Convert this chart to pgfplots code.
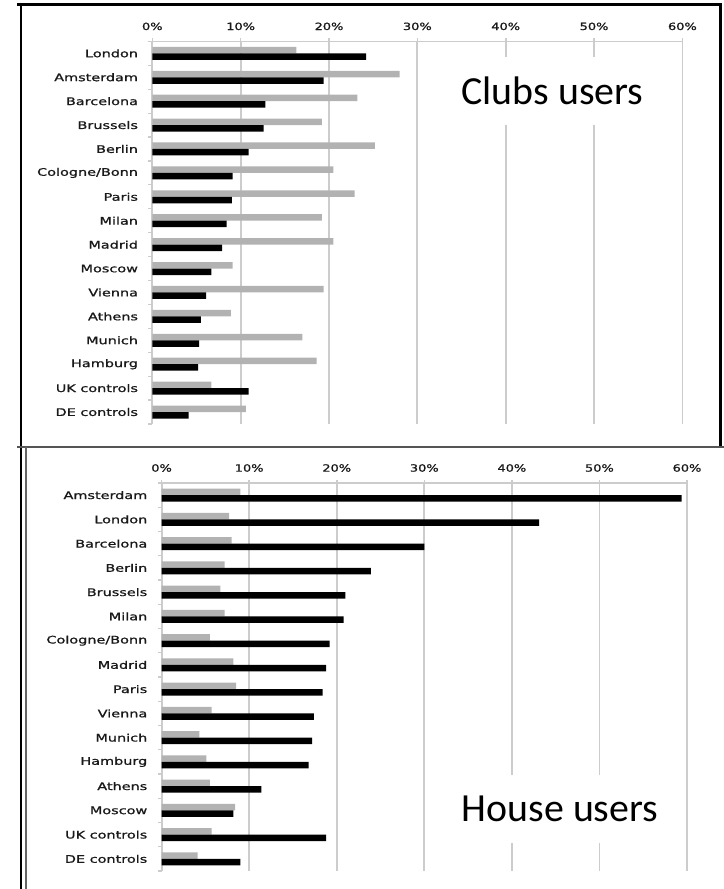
\documentclass[border=0pt]{standalone}
\usepackage{pgfplots}
\pgfplotsset{compat=1.18}
\usepackage{pgfplotstable}
\usepackage{fontspec}
\setmainfont{Carlito}
\newfontfamily\tickfont[FakeBold=0.9]{DejaVu Sans}

\definecolor{gridgray}{RGB}{204,204,204}
\definecolor{bargray}{RGB}{178,178,178}
\definecolor{framegray}{RGB}{85,85,85}

% share of users, in %: pos = row from the bottom, gray / black series
\pgfplotstableread{
pos gray black
15 16.3 24.2
14 28.0 19.4
13 23.2 12.8
12 19.2 12.6
11 25.2 10.9
10 20.5 9.1
9  22.9 9.0
8  19.2 8.4
7  20.5 7.9
6  9.1  6.7
5  19.4 6.1
4  8.9  5.5
3  17.0 5.3
2  18.6 5.2
1  6.7  10.9
0  10.6 4.1
}\clubs

\pgfplotstableread{
pos gray black
15 9.0 59.4
14 7.7 43.1
13 8.0 30.0
12 7.2 23.9
11 6.7 21.0
10 7.2 20.8
9  5.5 19.2
8  8.2 18.8
7  8.5 18.4
6  5.7 17.4
5  4.3 17.2
4  5.1 16.8
3  5.5 11.4
2  8.4 8.2
1  5.7 18.8
0  4.1 9.0
}\house

\pgfplotsset{
  panel/.style={
    scale only axis, anchor=north west,
    xmin=0, xmax=60, ymin=-0.5, ymax=15.5,
    axis x line*=top, axis y line*=left,
    axis line style={draw=gridgray, line width=1.6bp},
    xtick={0,10,...,60},
    xticklabels={0\%,10\%,20\%,30\%,40\%,50\%,60\%},
    ytick={0,...,15},
    minor ytick={-0.5,0.5,...,15.5},
    tick align=outside,
    major tick length=3bp, minor tick length=4bp,
    major x tick style={draw=gridgray, line width=1.6bp},
    major y tick style={draw=none},
    minor y tick style={draw=gridgray, line width=1.2bp},
    xmajorgrids, major grid style={draw=gridgray, line width=1.8bp},
    xbar, bar width=6.5bp,
    xticklabel style={font=\tickfont\fontsize{10}{12}\selectfont, text=black!90,
      inner sep=0pt, anchor=center, xscale=1.3, yshift=12bp},
    yticklabel style={font=\tickfont\fontsize{10.5}{12}\selectfont, text=black!90,
      inner sep=0pt, anchor=east, xscale=1.38, xshift=-8bp},
  },
  graybar/.style={fill=bargray, draw=none, bar shift=3.25bp},
  blackbar/.style={fill=black, draw=none, bar shift=-3.25bp},
}

\begin{document}
\begin{tikzpicture}
\path[use as bounding box] (0,0) rectangle (724bp,889bp);

% Clubs users
\begin{axis}[panel, at={(152.3bp,847.6bp)}, width=530.1bp, height=382.6bp,
  yticklabels={DE controls,UK controls,Hamburg,Munich,Athens,Vienna,Moscow,Madrid,
    Milan,Paris,Cologne/Bonn,Berlin,Brussels,Barcelona,Amsterdam,London}]
  \addplot[graybar] table[x=gray, y=pos] {\clubs};
  \addplot[blackbar] table[x=black, y=pos] {\clubs};
\end{axis}

% House users
\begin{axis}[panel, at={(161.6bp,406bp)}, width=525.4bp, height=388bp,
  yticklabels={DE controls,UK controls,Moscow,Athens,Hamburg,Munich,Vienna,Paris,
    Madrid,Cologne/Bonn,Milan,Brussels,Berlin,Barcelona,London,Amsterdam}]
  \addplot[graybar] table[x=gray, y=pos] {\house};
  \addplot[blackbar] table[x=black, y=pos] {\house};
\end{axis}

% panel titles on white boxes
\node[font=\fontsize{40}{48}\selectfont, fill=white, inner xsep=6bp, inner ysep=0pt,
  text height=48bp, text depth=20bp, anchor=base] at (552.5bp,784bp) {Clubs users};
\node[font=\fontsize{40}{48}\selectfont, fill=white, inner xsep=6bp, inner ysep=0pt,
  text height=46.7bp, text depth=21.3bp, anchor=base] at (560bp,67.3bp) {House users};

% frames
\draw[black, line width=2.5bp] (17bp,884.5bp) -- (720.5bp,884.5bp) -- (720.5bp,442bp);
\draw[black, line width=2.5bp] (21bp,884.5bp) -- (21bp,0bp);
\draw[framegray, line width=2bp] (17bp,442bp) -- (724bp,442bp);
\draw[black!60, line width=1.2bp] (26bp,442bp) -- (26bp,0bp);
\end{tikzpicture}
\end{document}
